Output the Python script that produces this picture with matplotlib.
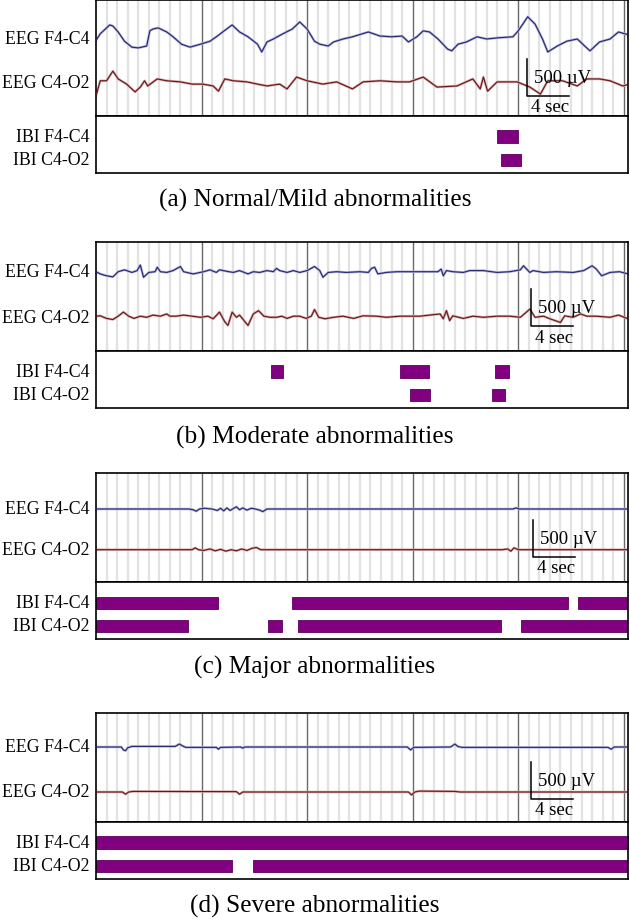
import matplotlib.pyplot as plt
import matplotlib.transforms as mtransforms
import numpy as np

plt.rcParams['font.family'] = ['Liberation Serif', 'DejaVu Serif']

# time span of every panel (s) and amplitude scale (uV per pixel)
duration = 50.4
uv_per_px = 13.5

captions = ['(a) Normal/Mild abnormalities', '(b) Moderate abnormalities',
            '(c) Major abnormalities', '(d) Severe abnormalities']
eeg_labels = ['EEG F4-C4', 'EEG C4-O2']
ibi_labels = ['IBI F4-C4', 'IBI C4-O2']

# EEG traces: (time s, deviation uV)
a_f4 = [(0.0, -20), (0.4, 70), (1.3, 190), (1.6, 175), (2.1, 95), (2.7, -30), (3.4, -110), (4.0, -120),
        (4.8, -95), (5.1, 110), (5.4, 135), (5.9, 150), (6.7, 95), (7.3, 30), (8.1, -70), (8.9, -110),
        (9.9, -70), (10.8, -30), (11.5, 40), (12.0, 95), (12.9, 190), (13.6, 95), (14.4, 30), (15.3, -70),
        (15.7, -175), (16.2, -40), (16.8, 0), (17.7, 70), (18.6, 135), (19.3, 230), (20.0, 135), (20.7, -30),
        (21.2, -70), (22.0, -95), (22.5, -40), (23.4, 0), (24.3, 30), (25.8, 95), (26.9, 40), (28.0, 30),
        (29.0, 40), (29.6, -40), (30.4, 30), (31.0, 110), (31.6, 95), (32.4, 0), (33.3, -135), (33.7, -160),
        (34.3, -70), (35.1, -40), (36.1, 30), (37.0, 0), (38.0, 15), (39.5, 30), (40.0, 110), (40.9, 300),
        (41.6, 200), (42.3, 0), (42.8, -175), (43.7, -95), (44.6, -30), (45.6, 0), (46.3, -95), (46.8, -160),
        (47.7, -40), (48.7, 0), (49.5, 95), (50.1, 70), (50.4, 60)]
a_c4 = [(0.0, -175), (0.4, 30), (1.0, 30), (1.6, 160), (2.1, 55), (2.9, -15), (3.7, -120), (4.2, -55),
        (4.6, 30), (4.9, -40), (5.8, 55), (6.7, 30), (8.0, 15), (9.1, -15), (10.1, -15), (11.1, -40),
        (11.6, -110), (12.2, 55), (13.0, 30), (14.3, 15), (15.3, -15), (16.2, -40), (17.4, -15), (18.1, -80),
        (19.0, 80), (20.0, 30), (21.5, -15), (22.8, 15), (24.3, -80), (25.3, 15), (26.9, 30), (28.5, 15),
        (29.7, 15), (31.0, 80), (32.3, -55), (34.2, -40), (35.7, 55), (36.4, -80), (36.7, 80), (37.1, -110),
        (38.0, 15), (39.9, 15), (41.1, -55), (42.1, -150), (42.8, 30), (44.2, 30), (45.6, -40), (46.5, 55),
        (47.7, 55), (48.7, 30), (49.9, -40), (50.4, -20)]
b_f4 = [(0.0, 0), (0.4, -30), (1.0, -55), (1.6, -70), (2.1, 0), (2.7, 25), (3.4, -10), (3.9, 15), (4.2, 90),
        (4.5, -75), (5.0, -10), (5.6, 0), (5.8, 60), (6.1, 0), (6.7, -10), (7.3, 15), (8.0, 70), (8.3, 0),
        (9.2, -30), (10.2, 0), (10.8, 25), (11.4, -10), (11.7, 25), (12.4, 5), (13.0, -10), (13.6, 15),
        (14.4, -30), (14.9, 0), (15.5, -10), (16.2, 15), (16.8, 0), (17.1, 45), (17.4, 15), (18.1, -10),
        (18.7, 15), (19.3, -10), (20.0, 15), (20.7, 70), (21.2, 15), (21.5, -75), (22.0, -10), (22.8, 0),
        (23.7, -10), (25.0, 0), (25.8, -10), (26.1, 45), (26.4, 60), (26.7, -30), (27.5, -10), (28.5, 0),
        (29.7, 0), (30.7, 0), (32.4, 0), (32.7, 35), (32.9, -55), (33.2, 15), (33.8, 0), (34.8, -10),
        (35.4, 15), (36.7, 15), (38.0, -10), (39.2, 0), (40.2, 25), (40.5, 80), (41.1, -10), (41.4, 15),
        (42.4, -10), (43.6, 0), (45.2, -10), (46.2, 15), (47.0, 80), (47.4, 35), (47.9, -55), (48.7, -10),
        (49.6, 0), (50.4, -30)]
b_c4 = [(0.0, 15), (0.4, 20), (1.0, -15), (1.6, -30), (2.1, 15), (2.6, 70), (3.1, 15), (3.6, -15), (4.2, 15),
        (4.8, 0), (5.4, 30), (6.1, 15), (6.7, 45), (7.0, 15), (7.6, 15), (8.3, 30), (9.1, 15), (9.9, 0),
        (10.6, 15), (11.1, -20), (11.7, 70), (12.2, -60), (12.5, -110), (12.9, 70), (13.3, 0), (13.6, 30),
        (14.4, -110), (14.9, 45), (15.4, 90), (15.9, 15), (16.5, 0), (17.1, 0), (17.6, 15), (18.1, -15),
        (18.7, 15), (19.3, 15), (19.9, -15), (20.4, 15), (20.7, 105), (21.1, 0), (21.7, -20), (22.5, 0),
        (23.4, 15), (24.4, -15), (25.3, 20), (26.6, 15), (27.5, 0), (28.8, 15), (29.7, 15), (30.7, 15),
        (31.6, 30), (32.6, 45), (32.9, -20), (33.2, 90), (33.5, -45), (33.8, 20), (34.8, -15), (35.7, 15),
        (36.7, 0), (38.0, 15), (39.2, 15), (40.2, 0), (41.1, 110), (41.6, 0), (42.4, 15), (43.0, -20),
        (44.0, -70), (44.4, 20), (45.2, 0), (45.9, 45), (46.5, 15), (47.4, 15), (48.7, 0), (49.5, 30),
        (50.4, -20)]
c_f4 = [(0.0, 0), (8.8, 0), (9.2, -10), (9.5, -30), (9.8, 0), (10.3, 10), (11.0, 0), (11.5, -20), (11.8, 10),
        (12.1, -25), (12.4, 15), (12.7, -20), (13.0, 5), (13.3, 30), (13.6, -10), (13.9, 15), (14.3, -15),
        (14.7, 10), (15.1, 0), (15.5, -15), (15.8, -35), (16.2, 0), (17.0, 0), (39.5, 0), (39.8, 15),
        (40.1, 0), (50.4, 0)]
c_c4 = [(0.0, 0), (9.1, 0), (9.4, 25), (9.7, 0), (10.2, -10), (10.8, 10), (11.3, -15), (11.8, 5), (12.3, -20),
        (12.8, 0), (13.3, -15), (13.8, 10), (14.3, -10), (14.8, 20), (15.2, 30), (15.6, 0), (16.0, 0),
        (38.5, 0), (39.0, 10), (39.3, -20), (39.6, 25), (40.0, 0), (50.4, 0)]
d_f4 = [(0.0, 0), (2.4, 0), (2.6, -40), (2.8, -50), (3.0, -10), (3.4, 8), (7.5, 8), (7.9, 40), (8.2, 15),
        (8.5, -5), (11.4, -5), (11.6, -30), (11.8, -5), (13.7, 0), (13.9, -15), (14.1, 0), (29.5, 0),
        (29.8, -40), (30.1, -5), (33.6, 0), (34.0, 40), (34.3, 5), (34.7, -5), (48.5, -5), (48.8, -30),
        (49.1, 0), (50.4, 0)]
d_c4 = [(0.0, 0), (2.5, 0), (2.8, -30), (3.1, 0), (3.5, 8), (13.3, 5), (13.6, -30), (13.9, 0), (29.6, 0),
        (29.9, -40), (30.2, 0), (30.6, 12), (34.0, 8), (34.5, 0), (50.4, 0)]

# IBI detections: (start s, end s)
a_ibi_f4 = [(38.0, 40.0)]
a_ibi_c4 = [(38.4, 40.3)]
b_ibi_f4 = [(16.6, 17.7), (28.8, 31.5), (37.8, 39.1)]
b_ibi_c4 = [(29.7, 31.6), (37.5, 38.7)]
c_ibi_f4 = [(0.0, 11.6), (18.6, 44.7), (45.7, 50.4)]
c_ibi_c4 = [(0.0, 8.7), (16.3, 17.6), (19.1, 38.4), (40.3, 50.4)]
d_ibi_f4 = [(0.0, 50.4)]
d_ibi_c4 = [(0.0, 12.9), (14.9, 50.4)]

eeg = [(a_f4, a_c4), (b_f4, b_c4), (c_f4, c_c4), (d_f4, d_c4)]
ibi = [(a_ibi_f4, a_ibi_c4), (b_ibi_f4, b_ibi_c4), (c_ibi_f4, c_ibi_c4), (d_ibi_f4, d_ibi_c4)]

# layout in pixels of the 630x920 figure
W, H = 630, 920
x_left, x_right = 96, 628
eeg_box = [(0.5, 116.5), (243, 351.7), (474, 583), (714, 822.5)]
ibi_box = [(116.5, 174), (351.7, 409), (583, 640), (822.5, 880)]
f4_px = [40, 272.7, 510, 748]
c4_px = [84, 318.3, 550.7, 793]
bar_px = [(527, 97), (530.7, 327.3), (533, 558), (531, 800)]
caption_px = [200, 437, 667, 906]

trace_cols = [('#26266e', '#b4b4dc'), ('#641616', '#d6a8a8')]


def rect(top, bot):
    return [x_left / W, 1 - bot / H, (x_right - x_left) / W, (bot - top) / H]


fig = plt.figure(figsize=(W / 100, H / 100), dpi=100)

for i in range(4):
    top, bot = eeg_box[i]
    ax = fig.add_axes(rect(top, bot))
    ax.set_xlim(0, duration)
    ax.set_ylim(0, (bot - top) * uv_per_px)
    secs = np.arange(1, int(duration) + 1)
    minor = [s for s in secs if s % 10 != 0]
    ax.vlines(minor, 0, 1, transform=ax.get_xaxis_transform(), color='#e2e2e2', lw=1.6, zorder=0)
    ax.vlines([10, 20, 30, 40, 50], 0, 1, transform=ax.get_xaxis_transform(), color='#6a6a6a', lw=1.0, zorder=0)

    bases = [(bot - f4_px[i]) * uv_per_px, (bot - c4_px[i]) * uv_per_px]
    tr = mtransforms.blended_transform_factory(ax.transAxes, ax.transData)
    for k, trace in enumerate(eeg[i]):
        t, v = np.array(trace, dtype=float).T
        dark, light = trace_cols[k]
        ax.plot(t, bases[k] + v, color=light, lw=1.8, solid_joinstyle='round', zorder=2)
        ax.plot(t, bases[k] + v, color=dark, lw=0.8, solid_joinstyle='round', zorder=3)
        ax.text(-0.012, bases[k], eeg_labels[k], transform=tr, ha='right', va='center', fontsize=12.8)

    # scale bar
    bx, by = bar_px[i]
    x0 = (bx - x_left) / (x_right - x_left) * duration
    y0 = (bot - by) * uv_per_px
    ax.plot([x0, x0, x0 + 4], [y0 + 500, y0, y0], color='black', lw=1.1, zorder=5)
    ax.text(x0 + 0.7, y0 + 250, '500 µV', ha='left', va='center', fontsize=13.5, zorder=5)
    ax.text(x0 + 0.4, y0 - 11 * uv_per_px, '4 sec', ha='left', va='center', fontsize=13.5, zorder=5)

    ax.set_xticks([])
    ax.set_yticks([])
    for s in ax.spines.values():
        s.set_linewidth(1.2)

    # IBI panel
    top, bot = ibi_box[i]
    bx_ax = fig.add_axes(rect(top, bot))
    bx_ax.set_xlim(0, duration)
    bx_ax.set_ylim(-0.57, 1.91)
    tr2 = mtransforms.blended_transform_factory(bx_ax.transAxes, bx_ax.transData)
    for k, rows in enumerate(ibi[i]):
        y = 1 - k
        spans = [(s, e - s) for s, e in rows]
        bx_ax.broken_barh(spans, (y - 0.27, 0.54), facecolors='#800080', edgecolors='#5c005c', lw=0.6)
        bx_ax.text(-0.012, y, ibi_labels[k], transform=tr2, ha='right', va='center', fontsize=12.8)
    bx_ax.set_xticks([])
    bx_ax.set_yticks([])
    for s in bx_ax.spines.values():
        s.set_linewidth(1.2)

    fig.text(0.5, 1 - caption_px[i] / H, captions[i], ha='center', va='center', fontsize=18.3)

fig.savefig('out.png', dpi=100)
